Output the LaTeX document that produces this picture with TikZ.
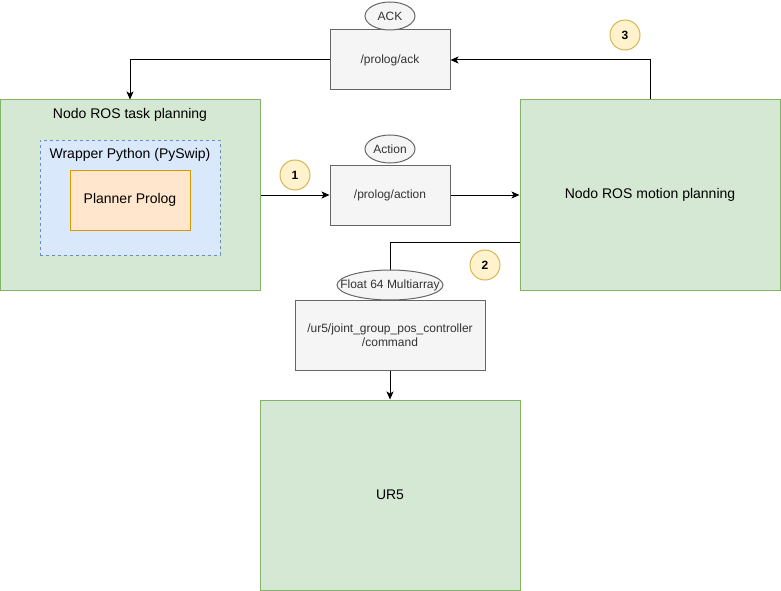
\documentclass[tikz,border=0pt]{standalone}
\usepackage{fontspec}
\setmainfont{Liberation Sans}
\usetikzlibrary{arrows.meta,calc,shapes.geometric}
\definecolor{grfill}{HTML}{D5E8D4}
\definecolor{grline}{HTML}{82B366}
\definecolor{blfill}{HTML}{DAE8FC}
\definecolor{blline}{HTML}{6C8EBF}
\definecolor{orfill}{HTML}{FFE6CC}
\definecolor{orline}{HTML}{D79B00}
\definecolor{gyfill}{HTML}{F5F5F5}
\definecolor{gyline}{HTML}{666666}
\definecolor{gytext}{HTML}{333333}
\definecolor{yefill}{HTML}{FFF2CC}
\definecolor{yeline}{HTML}{D6B656}
\begin{document}
\begin{tikzpicture}[x=1pt,y=-1pt,line width=1pt,
  greenbox/.style={draw=grline,fill=grfill,minimum width=260pt,minimum height=190pt,inner sep=0pt,font=\fontsize{14}{16}\selectfont},
  topicbox/.style={draw=gyline,fill=gyfill,text=gytext,inner sep=0pt,font=\fontsize{12}{14}\selectfont,align=center},
  msgell/.style={ellipse,draw=gyline,fill=gyfill,text=gytext,inner sep=0pt,font=\fontsize{12}{14}\selectfont},
  stepnum/.style={circle,draw=yeline,fill=yefill,minimum size=30pt,inner sep=0pt,font=\bfseries\fontsize{12}{14}\selectfont},
  titletext/.style={inner sep=0pt,font=\fontsize{14}{16}\selectfont},
  conn/.style={draw=black,-{Stealth[length=8pt,width=7pt,inset=2pt]}}
]
\useasboundingbox (0,0) rectangle (781,591);
% big boxes
\node[greenbox] (task) at (130,195) {};
\node[titletext] (tasktitle) at (130,115) {Nodo ROS task planning};
\node[draw=blline,fill=blfill,dashed,line width=0.8pt,minimum width=180pt,minimum height=115pt,inner sep=0pt] (wrap) at (130,197.5) {};
\node[titletext] (wraptitle) at (130,155) {Wrapper Python (PySwip)};
\node[draw=orline,fill=orfill,minimum width=120pt,minimum height=60pt,inner sep=0pt,font=\fontsize{14}{16}\selectfont] (planner) at (130,200) {Planner Prolog};
\node[greenbox] (motion) at (650,195) {Nodo ROS motion planning};
\node[greenbox] (ur5) at (390,495) {UR5};
% topic boxes
\node[topicbox,minimum width=120pt,minimum height=60pt] (ack) at (390,60) {/prolog/ack};
\node[topicbox,minimum width=120pt,minimum height=60pt] (action) at (390,195) {/prolog/action};
\node[topicbox,minimum width=190pt,minimum height=70pt] (cmd) at (390,335) {/ur5/joint\_group\_pos\_controller\\/command};
% connectors
\coordinate (c1) at (130,60);
\coordinate (c2) at (650,60);
\coordinate (c3) at (390,242);
\coordinate (c4) at (520,242);
\draw[conn] (ack.west) -- (c1) -- (task.north);
\draw[conn] (motion.north) -- (c2) -- (ack.east);
\draw[conn] (task.east |- action.west) -- (action.west);
\draw[conn] (action.east) -- (motion.west |- action.east);
\draw (c4) -- (c3) -- (cmd.north);
\draw[conn] (cmd.south) -- (ur5.north);
% message type ellipses
\node[msgell,minimum width=50pt,minimum height=28pt] (ackmsg) at (390,16) {ACK};
\node[msgell,minimum width=50pt,minimum height=28pt] (actmsg) at (390,149) {Action};
\node[msgell,minimum width=106pt,minimum height=30pt] (floatmsg) at (390,285) {\makebox[0pt]{Float 64 Multiarray}};
% step numbers
\node[stepnum] (s1) at (295,175) {1};
\node[stepnum] (s2) at (485,265) {2};
\node[stepnum] (s3) at (625,35) {3};
\end{tikzpicture}
\end{document}
